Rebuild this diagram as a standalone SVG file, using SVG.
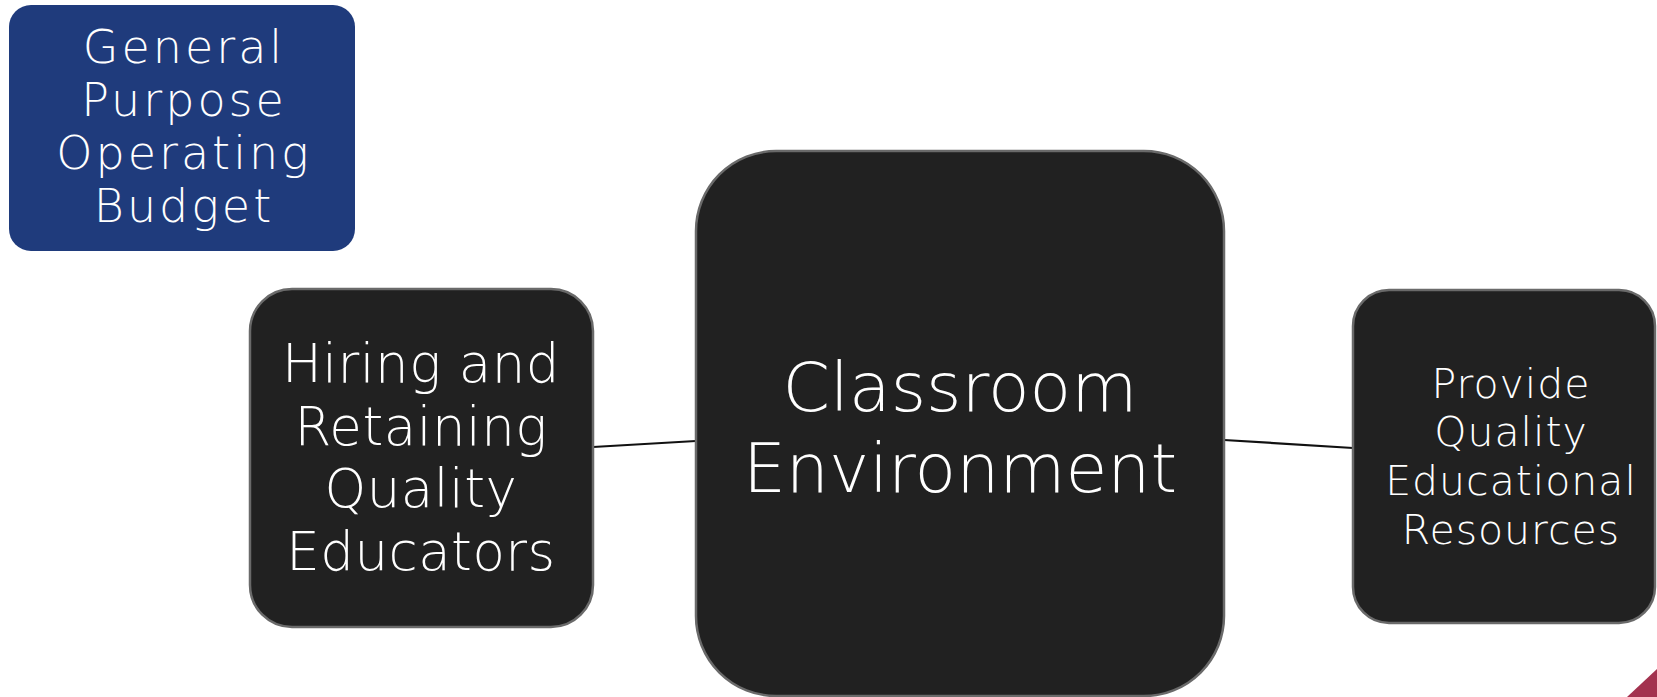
<svg xmlns="http://www.w3.org/2000/svg" width="1657" height="697" viewBox="0 0 1657 697">
<style>
.node{fill:#212121;stroke:#6a6a6a;stroke-width:2.5}
.t{fill:#ffffff;font-family:"DejaVu Sans","Liberation Sans",sans-serif;font-weight:200;text-anchor:middle}
.conn{stroke:#111111;stroke-width:2.2;fill:none}
</style>
<rect width="1657" height="697" fill="#ffffff"/>
<g id="connectors">
<line class="conn" x1="593" y1="447" x2="696" y2="441"/>
<line class="conn" x1="1224" y1="440" x2="1353" y2="448"/>
</g>
<g id="budget">
<rect x="9" y="5" width="346" height="246" rx="22" fill="#1f3b7c"/>
<text class="t" x="184" y="63" font-size="46" letter-spacing="3">General</text>
<text class="t" x="184" y="116" font-size="46" letter-spacing="3">Purpose</text>
<text class="t" x="184" y="169" font-size="46" letter-spacing="3">Operating</text>
<text class="t" x="184" y="222" font-size="46" letter-spacing="3">Budget</text>
</g>
<g id="hiring">
<rect class="node" x="250" y="289" width="343" height="338" rx="42"/>
<text class="t" x="421" y="382" font-size="53" letter-spacing="0.5">Hiring and</text>
<text class="t" x="421" y="445" font-size="53" letter-spacing="0.5">Retaining</text>
<text class="t" x="421" y="507" font-size="53" letter-spacing="0.5">Quality</text>
<text class="t" x="421" y="570" font-size="53" letter-spacing="0.5">Educators</text>
</g>
<g id="classroom">
<rect class="node" x="696" y="151" width="528" height="545" rx="80"/>
<text class="t" x="960" y="411" font-size="68">Classroom</text>
<text class="t" x="960" y="492" font-size="68">Environment</text>
</g>
<g id="resources">
<rect class="node" x="1353" y="290" width="302" height="333" rx="36"/>
<text class="t" x="1511" y="398" font-size="41" letter-spacing="1">Provide</text>
<text class="t" x="1511" y="446" font-size="41" letter-spacing="1">Quality</text>
<text class="t" x="1511" y="495" font-size="41" letter-spacing="1">Educational</text>
<text class="t" x="1511" y="544" font-size="41" letter-spacing="1">Resources</text>
</g>
<polygon points="1627,697 1657,669 1657,697" fill="#a3324f"/>
</svg>
